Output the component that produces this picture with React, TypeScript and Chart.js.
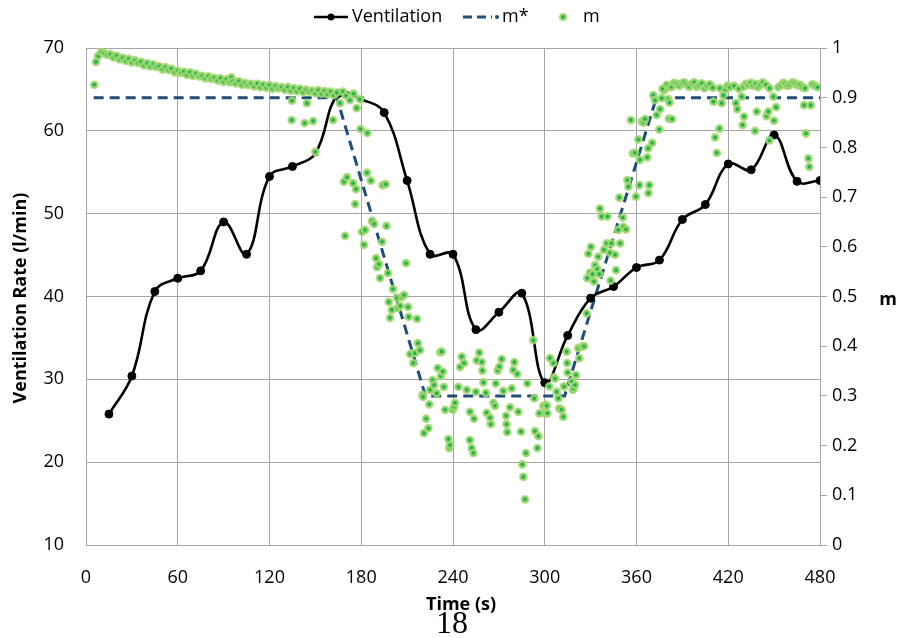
import React, { useEffect, useRef } from "react";
import { Chart, registerables } from "chart.js";

Chart.register(...registerables);

// ---------- DATA ----------
const xTicks = [0, 60, 120, 180, 240, 300, 360, 420, 480];

const ventTime = [15, 30, 45, 60, 75, 90, 105, 120, 135, 150, 165, 180, 195, 210, 225, 240,
  255, 270, 285, 300, 315, 330, 345, 360, 375, 390, 405, 420, 435, 450, 465, 480];
const ventValue = [25.8, 30.4, 40.6, 42.2, 43.1, 49.0, 45.1, 54.5, 55.7, 57.3, 64.5, 63.8, 62.2, 54.0, 45.1, 45.1,
  36.0, 38.1, 40.4, 29.6, 35.3, 39.8, 41.2, 43.5, 44.4, 49.3, 51.1, 56.0, 55.3, 59.5, 53.9, 54.0];

const mStarTime = [5, 164, 222, 313, 373, 480];
const mStarValue = [0.9, 0.9, 0.3, 0.3, 0.9, 0.9];

// m: initial plateau
const mTimeA = [5.4, 6.5, 8, 10, 12, 14, 16, 18, 20, 22, 24, 26, 28, 30, 32, 34, 36, 38, 40, 42, 44, 46, 48, 50,
  52, 54, 56, 58, 60, 62, 64, 66, 68, 70, 72, 74, 76, 78, 80, 82, 84, 86, 88, 90, 92, 94, 95, 96, 98, 100,
  102, 104, 106, 108, 110, 112, 114, 116, 118, 120, 122, 124, 126, 128, 130, 132, 134, 136, 138, 140, 142,
  144, 146, 148, 150, 152, 154, 156, 158, 160, 162, 164, 134.7, 144.5, 134.5, 143, 148.5, 161.5, 150];
const mValueA = [0.926, 0.972, 0.984, 0.992, 0.989, 0.986, 0.987, 0.981, 0.984, 0.977, 0.980, 0.974, 0.978, 0.971,
  0.975, 0.970, 0.972, 0.965, 0.969, 0.963, 0.967, 0.962, 0.963, 0.957, 0.961, 0.956, 0.958, 0.951, 0.954, 0.950,
  0.952, 0.946, 0.951, 0.944, 0.948, 0.943, 0.944, 0.939, 0.943, 0.938, 0.940, 0.935, 0.939, 0.932, 0.937, 0.931,
  0.941, 0.933, 0.929, 0.933, 0.926, 0.930, 0.926, 0.928, 0.923, 0.928, 0.921, 0.926, 0.920, 0.925, 0.918, 0.923,
  0.919, 0.921, 0.916, 0.921, 0.914, 0.919, 0.913, 0.918, 0.911, 0.916, 0.912, 0.914, 0.909, 0.915, 0.908, 0.913,
  0.907, 0.912, 0.905, 0.910, 0.894, 0.889, 0.855, 0.849, 0.853, 0.855, 0.791];

// m: descent
const mTimeB = [166, 168, 170, 172.6, 175, 177, 179, 179.5, 184, 168.7, 170.7, 174.6, 176.6, 176, 183.7, 186.3,
  194, 196, 169.4, 180.5, 182.5, 181.8, 187, 188.4, 196.5, 193.6, 189.7, 190.3, 191.6, 192.3, 197.5, 209.3,
  200.8, 198, 203.4, 206.6, 208, 200, 204, 205.5, 210.6, 198.8, 211, 216.5, 217, 212, 215, 218.4, 214];
const mValueB = [0.889, 0.912, 0.904, 0.895, 0.908, 0.879, 0.897, 0.837, 0.829, 0.731, 0.740, 0.728, 0.716, 0.686,
  0.749, 0.733, 0.724, 0.726, 0.622, 0.630, 0.634, 0.604, 0.652, 0.646, 0.642, 0.610, 0.577, 0.559, 0.565, 0.537,
  0.547, 0.567, 0.515, 0.489, 0.497, 0.499, 0.503, 0.473, 0.477, 0.481, 0.479, 0.457, 0.459, 0.455, 0.406, 0.384,
  0.386, 0.392, 0.366];

// m: trough
const mTimeC = [220, 220.4, 221, 222.4, 223.9, 224.5, 225, 226.7, 227.6, 229.3, 230, 231.6, 232, 232.6, 233.3, 234,
  234.8, 237, 237.6, 238, 239.8, 240.7, 241.3, 243.5, 244.6, 245.7, 247.2, 249, 251, 251.1, 252.2, 253.3, 253.7,
  255, 255.5, 257.2, 258.8, 259.2, 259.9, 261.5, 262, 264.2, 264.7, 266.4, 267.5, 268, 269.2, 270.3, 271.8, 272.9,
  274.7, 275, 275.5, 277.3, 278.4, 279.4, 280.1, 282, 282.7, 284.5, 285.3, 286, 287.1, 287.7, 288.6, 292.5, 293.2,
  293.6, 295.2, 295.8, 296.5, 299.1, 300.2, 300.8, 301.3, 301.7, 303, 303.4, 305.6, 306, 306.7, 307.8, 308.9,
  309.5, 311, 312.1, 312.6, 314.3, 314.7, 315];
const mValueC = [0.302, 0.298, 0.225, 0.254, 0.235, 0.283, 0.312, 0.332, 0.322, 0.305, 0.356, 0.388, 0.340, 0.389,
  0.349, 0.318, 0.272, 0.213, 0.195, 0.201, 0.272, 0.278, 0.286, 0.318, 0.358, 0.379, 0.366, 0.312, 0.211, 0.268,
  0.195, 0.185, 0.254, 0.308, 0.371, 0.387, 0.368, 0.351, 0.327, 0.306, 0.266, 0.256, 0.243, 0.286, 0.280, 0.325,
  0.351, 0.359, 0.374, 0.310, 0.260, 0.243, 0.227, 0.277, 0.315, 0.352, 0.368, 0.344, 0.268, 0.228, 0.162, 0.137,
  0.092, 0.185, 0.325, 0.412, 0.295, 0.229, 0.195, 0.219, 0.265, 0.280, 0.265, 0.282, 0.280, 0.265, 0.319, 0.376,
  0.366, 0.337, 0.335, 0.308, 0.295, 0.275, 0.272, 0.258, 0.319, 0.389, 0.366, 0.347];

// m: ascent
const mTimeD = [317.6, 318.3, 318.7, 319.8, 320.4, 321.9, 322.6, 324.2, 325.7, 327.4, 327.8, 328.5, 329.6, 330.2,
  331.3, 332.2, 332.9, 334.4, 335, 335.7, 336.1, 337.2, 338.7, 340.5, 341, 342.7, 343, 343.6, 346, 346.6, 348.1,
  348.8, 349.3, 351, 351.4, 353.1, 354, 354.7, 356.3, 357.6, 359, 359.6, 361.2, 361.9, 362.2, 363.4, 364.5, 365.6,
  367, 367.7, 367.8, 368.4, 370.3, 371, 372.1, 373.2, 374.9, 375.4, 376.5, 378, 380.8, 381.2];
const mValueD = [0.329, 0.312, 0.315, 0.322, 0.342, 0.396, 0.376, 0.399, 0.400, 0.466, 0.537, 0.586, 0.548, 0.600,
  0.545, 0.530, 0.563, 0.555, 0.580, 0.545, 0.677, 0.661, 0.594, 0.607, 0.661, 0.588, 0.532, 0.607, 0.584, 0.553,
  0.634, 0.699, 0.607, 0.659, 0.640, 0.635, 0.734, 0.721, 0.855, 0.788, 0.789, 0.701, 0.816, 0.724, 0.775, 0.852,
  0.850, 0.857, 0.780, 0.798, 0.708, 0.724, 0.809, 0.905, 0.895, 0.865, 0.836, 0.877, 0.899, 0.915, 0.897, 0.858];

// m: final plateau
const mTimeE = [377, 379.8, 381.5, 383, 384.6, 386.3, 388, 389.6, 391.2, 392.9, 394.5, 396.2, 397.8, 399.5, 401,
  402.7, 404.4, 406, 408, 409.9, 414.6, 417.9, 419.5, 421.2, 423.8, 427, 429.9, 431.5, 433.1, 434.8, 436.4, 438,
  439.5, 440.8, 442.5, 444.7, 447, 452.8, 454.5, 456, 457.1, 458.7, 460.4, 462, 463.7, 465.3, 467, 468.5, 470.2,
  475, 476.8, 478.5,
  381.6, 383.2, 410.3, 411.4, 412.5, 414.2, 415.7, 416.8, 425, 425.9, 428.8, 429.4, 430.3, 437.5, 438.6, 445,
  446.2, 446.9, 449.5, 449.9, 451.3, 469.6, 470.8, 472.4, 473, 473.9];
const mValueE = [0.918, 0.926, 0.921, 0.922, 0.930, 0.928, 0.924, 0.929, 0.931, 0.926, 0.922, 0.928, 0.931, 0.922,
  0.925, 0.929, 0.919, 0.924, 0.927, 0.920, 0.919, 0.916, 0.924, 0.921, 0.924, 0.918, 0.922, 0.928, 0.926, 0.930,
  0.924, 0.928, 0.921, 0.926, 0.931, 0.926, 0.919, 0.921, 0.925, 0.930, 0.928, 0.924, 0.926, 0.931, 0.929, 0.925,
  0.926, 0.921, 0.919, 0.927, 0.924, 0.921,
  0.890, 0.857, 0.892, 0.820, 0.789, 0.838, 0.889, 0.905, 0.889, 0.877, 0.902, 0.845, 0.862, 0.833, 0.872, 0.863,
  0.872, 0.814, 0.902, 0.854, 0.881, 0.885, 0.828, 0.778, 0.761, 0.885];

// ---------- STYLE ----------
const FONT = '"Open Sans", "Liberation Sans", sans-serif';
const GRID = "#a6a6a6";
const MSTAR_COLOR = "#1f4e79";
const M_FILL = "#1fb14e";
const M_HALO = "rgba(162, 216, 112, 0.85)";

const pairs = (xs: number[], ys: number[]) => xs.map((x, i) => ({ x, y: ys[i] }));

const overlayPlugin = {
  id: "overlay",
  afterDraw(chart: any) {
    const ctx = chart.ctx as CanvasRenderingContext2D;
    ctx.save();
    ctx.textBaseline = "middle";
    ctx.fillStyle = "#000";
    // legend
    const ly = 17;
    ctx.strokeStyle = "#000";
    ctx.lineWidth = 2.5;
    ctx.beginPath();
    ctx.moveTo(314, ly);
    ctx.lineTo(348, ly);
    ctx.stroke();
    ctx.beginPath();
    ctx.arc(331, ly, 3.5, 0, Math.PI * 2);
    ctx.fill();
    ctx.font = `18px ${FONT}`;
    ctx.textAlign = "left";
    ctx.fillText("Ventilation", 352, ly);

    ctx.strokeStyle = MSTAR_COLOR;
    ctx.lineWidth = 3;
    ctx.setLineDash([9, 5]);
    ctx.beginPath();
    ctx.moveTo(463, ly);
    ctx.lineTo(492, ly);
    ctx.stroke();
    ctx.setLineDash([]);
    ctx.fillStyle = MSTAR_COLOR;
    ctx.beginPath();
    ctx.arc(497, ly, 2, 0, Math.PI * 2);
    ctx.fill();
    ctx.fillStyle = "#000";
    ctx.fillText("m*", 502, ly);

    ctx.beginPath();
    ctx.arc(563, ly, 3, 0, Math.PI * 2);
    ctx.fillStyle = M_FILL;
    ctx.fill();
    ctx.lineWidth = 2.6;
    ctx.strokeStyle = M_HALO;
    ctx.stroke();
    ctx.fillStyle = "#000";
    ctx.fillText("m", 583, ly);

    // axis titles
    ctx.font = `bold 18px ${FONT}`;
    ctx.textAlign = "center";
    ctx.fillText("Time (s)", 461, 605);
    ctx.fillText("m", 888, 300);
    ctx.save();
    ctx.translate(21, 298);
    ctx.rotate(-Math.PI / 2);
    ctx.fillText("Ventilation Rate (l/min)", 0, 0);
    ctx.restore();

    // page number
    ctx.font = `32px "Liberation Serif", "DejaVu Serif", serif`;
    ctx.fillText("18", 452, 625);
    ctx.restore();
  },
};

export default function App() {
  const ref = useRef<HTMLCanvasElement | null>(null);

  useEffect(() => {
    if (!ref.current) return;
    const special = (t: number) => t === 150 || t === 180;
    const ventPointStyle = ventTime.map((t) => (special(t) ? "rect" : "circle"));
    const ventPointBg = ventTime.map((t) => (special(t) ? "#3cb04a" : "#000"));
    const ventPointBorder = ventTime.map((t) => (special(t) ? "#4d5a2a" : "#000"));
    const ventPointRadius = ventTime.map((t) => (special(t) ? 3.5 : 4));

    const mAll = [
      ...pairs(mTimeA, mValueA),
      ...pairs(mTimeB, mValueB),
      ...pairs(mTimeC, mValueC),
      ...pairs(mTimeD, mValueD),
      ...pairs(mTimeE, mValueE),
    ];

    const chart = new Chart(ref.current, {
      type: "scatter",
      data: {
        datasets: [
          {
            label: "m",
            data: mAll,
            yAxisID: "y1",
            showLine: false,
            pointRadius: 3.1,
            pointBorderWidth: 2.6,
            pointBackgroundColor: M_FILL,
            pointBorderColor: M_HALO,
          },
          {
            label: "Ventilation",
            data: pairs(ventTime, ventValue),
            yAxisID: "y",
            showLine: true,
            borderColor: "#000",
            borderWidth: 2.6,
            tension: 0.4,
            pointStyle: ventPointStyle as any,
            pointRadius: ventPointRadius,
            pointBackgroundColor: ventPointBg,
            pointBorderColor: ventPointBorder,
            pointBorderWidth: 1,
          },
          {
            label: "m*",
            data: pairs(mStarTime, mStarValue),
            yAxisID: "y1",
            showLine: true,
            borderColor: MSTAR_COLOR,
            borderWidth: 3,
            borderDash: [10, 6],
            pointRadius: 0,
            tension: 0,
          },
        ],
      },
      options: {
        responsive: false,
        animation: false,
        devicePixelRatio: 1,
        layout: { padding: { top: 48, left: 0, right: 0, bottom: 0 } },
        plugins: {
          legend: { display: false },
          tooltip: { enabled: false },
        },
        scales: {
          x: {
            type: "linear",
            min: 0,
            max: 480,
            afterBuildTicks: (scale: any) => {
              scale.ticks = xTicks.map((v) => ({ value: v }));
            },
            ticks: { font: { family: FONT, size: 18 }, color: "#000", padding: 22 },
            grid: { color: GRID, drawTicks: false },
            border: { color: GRID },
            afterFit: (scale: any) => {
              scale.height = 93;
            },
          },
          y: {
            position: "left",
            min: 10,
            max: 70,
            ticks: { stepSize: 10, font: { family: FONT, size: 18 }, color: "#000", padding: 22 },
            grid: { color: GRID, drawTicks: false },
            border: { color: GRID },
            afterFit: (scale: any) => {
              scale.width = 86;
            },
          },
          y1: {
            position: "right",
            min: 0,
            max: 1,
            ticks: {
              stepSize: 0.1,
              font: { family: FONT, size: 18 },
              color: "#000",
              padding: 5,
              callback: (v: any) => String(Math.round(Number(v) * 10) / 10),
            },
            grid: { color: GRID, drawOnChartArea: false, tickLength: 7 },
            border: { color: GRID },
            afterFit: (scale: any) => {
              scale.width = 83;
            },
          },
        },
      },
      plugins: [overlayPlugin],
    });
    return () => chart.destroy();
  }, []);

  return (
    <div style={{ position: "fixed", left: 0, top: 0, width: 903, height: 638, background: "#fff" }}>
      <canvas ref={ref} width={903} height={638} style={{ display: "block" }} />
    </div>
  );
}
